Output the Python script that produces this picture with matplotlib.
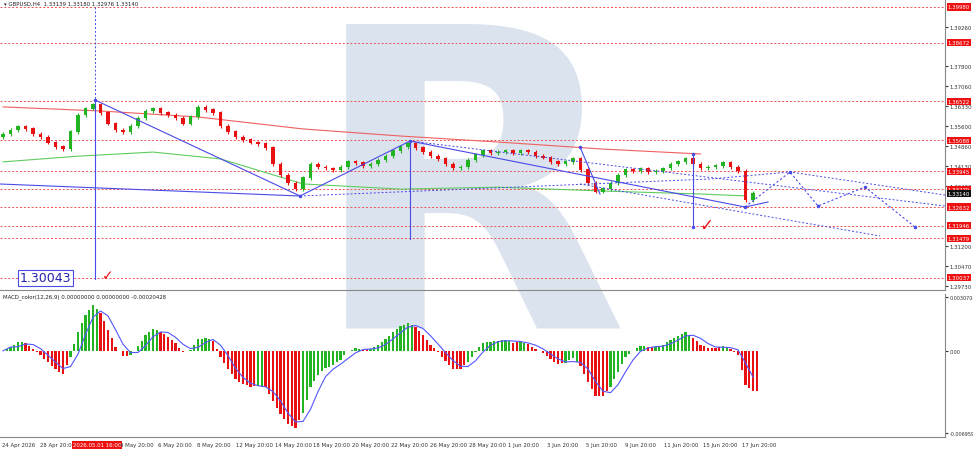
import matplotlib
matplotlib.use("Agg")
import matplotlib.pyplot as plt
import numpy as np

closes = [1.3531,1.3545,1.3557,1.3550,1.3530,1.3520,1.3500,1.3485,1.3475,1.3540,
          1.3600,1.3625,1.3640,1.3610,1.3570,1.3545,1.3540,1.3560,1.3590,1.3615,
          1.3625,1.3610,1.3600,1.3590,1.3570,1.3595,1.3630,1.3620,1.3610,1.3560,
          1.3540,1.3520,1.3510,1.3500,1.3495,1.3480,1.3420,1.3380,1.3350,1.3330,
          1.3370,1.3420,1.3410,1.3405,1.3400,1.3410,1.3430,1.3425,1.3415,1.3420,
          1.3435,1.3450,1.3470,1.3485,1.3495,1.3480,1.3465,1.3450,1.3440,1.3420,
          1.3405,1.3410,1.3435,1.3455,1.3470,1.3460,1.3465,1.3470,1.3460,1.3470,
          1.3465,1.3450,1.3445,1.3430,1.3420,1.3430,1.3440,1.3400,1.3350,1.3320,
          1.3330,1.3350,1.3380,1.3400,1.3395,1.3405,1.3390,1.3395,1.3405,1.3420,
          1.3430,1.3440,1.3420,1.3405,1.3410,1.3415,1.3425,1.3410,1.3395,1.3290,1.3314]
first_open = 1.3520
red_ma_idx = [0, 13, 26, 40, 53, 66, 80, 93]
red_ma = [1.3631,1.3616,1.3594,1.3550,1.3524,1.3502,1.3476,1.3458]
green_ma_idx = [0, 10, 20, 29, 40, 53, 66, 80, 93, 99]
green_ma = [1.3429,1.3450,1.3465,1.3440,1.3348,1.3329,1.3336,1.3322,1.3311,1.3304]
levels = [1.39980,1.38672,1.36522,1.35088,1.33945,1.33279,1.32632,1.31946,1.31479,1.30037]
ticks = [1.39260,1.37800,1.37060,1.36330,1.35600,1.34860,1.34130,1.33400,1.31200,1.30470,1.29730]
current = 1.33140
xlabels = ["24 Apr 2026","28 Apr 20:00","2026.05.01 16:00","4 May 20:00","6 May 20:00","8 May 20:00",
           "12 May 20:00","14 May 20:00","18 May 20:00","20 May 20:00","22 May 20:00","26 May 20:00",
           "28 May 20:00","1 Jun 20:00","3 Jun 20:00","5 Jun 20:00","9 Jun 20:00","11 Jun 20:00",
           "15 Jun 20:00","17 Jun 20:00"]
xlabel_px = [2,40,73,120,158,197,236,275,313,352,391,430,469,508,547,586,625,664,703,742]

def ix(px):
    return (px - 3) / 7.5

fig = plt.figure(figsize=(9.73, 4.52), dpi=100)
wm = fig.text(468/973, 1-212/452, "R", fontsize=300, fontweight="bold", color="#dbe3ee",
              ha="center", va="center")
wm.set_zorder(-5)
ax = fig.add_axes([0, 1-291/452, 945/973, 291/452])
mx = fig.add_axes([0, 1-438/452, 945/973, 143/452])
for a in (ax, mx):
    a.set_zorder(1)
    a.set_facecolor("none")
    a.set_xlim(ix(0), ix(945))
    a.set_xticks([])
    for s in ("top", "left"):
        a.spines[s].set_visible(False)
    a.spines["right"].set_color("#888")
    a.spines["bottom"].set_color("#888")
    a.yaxis.tick_right()
    a.tick_params(axis="y", labelsize=3.9, length=2, pad=1.5, colors="#333")
mx.tick_params(axis="y", labelsize=3.5)

ymin, ymax = 1.3998 - 283/2722, 1.3998 + 8/2722
ax.set_ylim(ymin, ymax)

c = np.array(closes)
o = np.concatenate([[first_open], c[:-1]])
x = np.arange(len(c))
for i in range(len(c)):
    col = "#22b422" if c[i] >= o[i] else "#e81010"
    hi = max(o[i], c[i]) + 0.0007
    lo = min(o[i], c[i]) - 0.0007
    ax.vlines(x[i], lo, hi, color=col, lw=0.8, zorder=3)
    ax.bar(x[i], abs(c[i]-o[i]) + 0.0002, bottom=min(o[i], c[i]), width=0.45, color=col, zorder=3)

ax.plot(red_ma_idx, red_ma, color="#f06060", lw=0.8, zorder=2)
ax.plot(green_ma_idx, green_ma, color="#60cc60", lw=0.8, zorder=2)

for lv in levels:
    ax.axhline(lv, color="#f05050", ls=(0, (2, 2)), lw=0.7, zorder=1)
    ax.text(1.003, lv, f"{lv:.5f}", transform=ax.get_yaxis_transform(), fontsize=3.9, color="white",
            va="center", ha="left", bbox=dict(boxstyle="square,pad=0.2", fc="#ee1111", ec="none"), zorder=5)
ax.text(1.003, current, f"{current:.5f}", transform=ax.get_yaxis_transform(), fontsize=3.9, color="white",
        va="center", ha="left", bbox=dict(boxstyle="square,pad=0.2", fc="#111", ec="none"), zorder=5)
ax.set_yticks(ticks)
ax.set_yticklabels([f"{t:.5f}" for t in ticks])

def py(y):
    return 1.3998 - (y - 8) / 2722

blue = "#4a4ae8"
def line(pts, **kw):
    ax.plot([ix(p[0]) for p in pts], [py(p[1]) for p in pts], color=blue, zorder=4, **kw)

line([(95,101),(300,197),(410,142),(745,208),(768,203)], lw=0.8)
line([(0,185),(300,197)], lw=0.8)
line([(580,148),(600,195)], lw=0.8)
line([(745,208),(790,173),(818,207),(865,188),(915,228)], lw=0.8, ls=(0,(2,2)))
line([(410,142),(945,207)], lw=0.7, ls=(0,(2,2)))
line([(300,197),(710,180),(790,173),(945,196)], lw=0.7, ls=(0,(2,2)))
line([(580,185),(880,237)], lw=0.7, ls=(0,(2,2)))
line([(95,8),(95,101)], lw=0.7, ls=(0,(2,2)))
line([(95,101),(95,280)], lw=0.8)
line([(410,142),(410,240)], lw=0.8)
line([(693,155),(693,228)], lw=0.8)
for p in [(95,101),(300,197),(410,142),(580,148),(745,208),(790,173),(818,207),(865,188),(915,228),(693,155),(693,228)]:
    ax.plot(ix(p[0]), py(p[1]), "o", ms=1.5, color=blue, zorder=4)

ax.text(ix(20), py(279), "1.30043", fontsize=9, color="#2222aa", va="center", ha="left",
        bbox=dict(boxstyle="square,pad=0.15", fc="white", ec=blue, lw=0.8), zorder=6)
ax.text(ix(108), py(276), "✓", fontsize=10, color="#ee1111", ha="center", va="center", fontweight="bold")
ax.text(ix(706), py(226), "✓", fontsize=12, color="#ee1111", ha="center", va="center", fontweight="bold")
ax.text(ix(4), py(4), "▾ GBPUSD,H4  1.33139 1.33180 1.32976 1.33140", fontsize=3.9, color="#222",
        ha="left", va="center")

# MACD
def ema(v, n):
    k = 2/(n+1); out = [v[0]]
    for val in v[1:]:
        out.append(out[-1] + k*(val-out[-1]))
    return np.array(out)
macd = ema(c, 4) - ema(c, 9)
sig = np.convolve(macd, np.ones(3)/3, mode="full")[:len(macd)]
sig[:2] = macd[:2]
mcol = ["#22b422" if i == 0 or macd[i] >= macd[i-1] else "#e81010" for i in range(len(macd))]
mx.bar(x, macd, width=0.3, color=mcol)
mx.bar(x + 0.5, (macd + np.concatenate([macd[1:], macd[-1:]])) / 2, width=0.3, color=mcol)
mx.plot(x, sig, color="#5555ff", lw=0.8)
lo_, hi_ = macd.min(), macd.max()
mx.set_ylim(lo_ * 1.12, hi_ * 1.25 if hi_ > 0 else 0.001)
mx.set_yticks([mx.get_ylim()[1] * 0.95, 0, mx.get_ylim()[0] * 0.95])
mx.set_yticklabels(["0.0030708", "0.00", "-0.0069591"])
mx.text(ix(3), mx.get_ylim()[1] * 0.97, "MACD_color(12,26,9) 0.00000000 0.00000000 -0.00020428", fontsize=3.9,
        va="center", ha="left", color="#222")

for lbl, p in zip(xlabels, xlabel_px):
    if lbl.startswith("2026"):
        fig.text(p/973, 1-446/452, lbl, fontsize=3.9, color="white", ha="left", va="center",
                 bbox=dict(boxstyle="square,pad=0.2", fc="#ee1111", ec="none"))
    else:
        fig.text(p/973, 1-446/452, lbl, fontsize=3.9, color="#333", ha="left", va="center")

fig.savefig("out.png", dpi=100, facecolor="white")
